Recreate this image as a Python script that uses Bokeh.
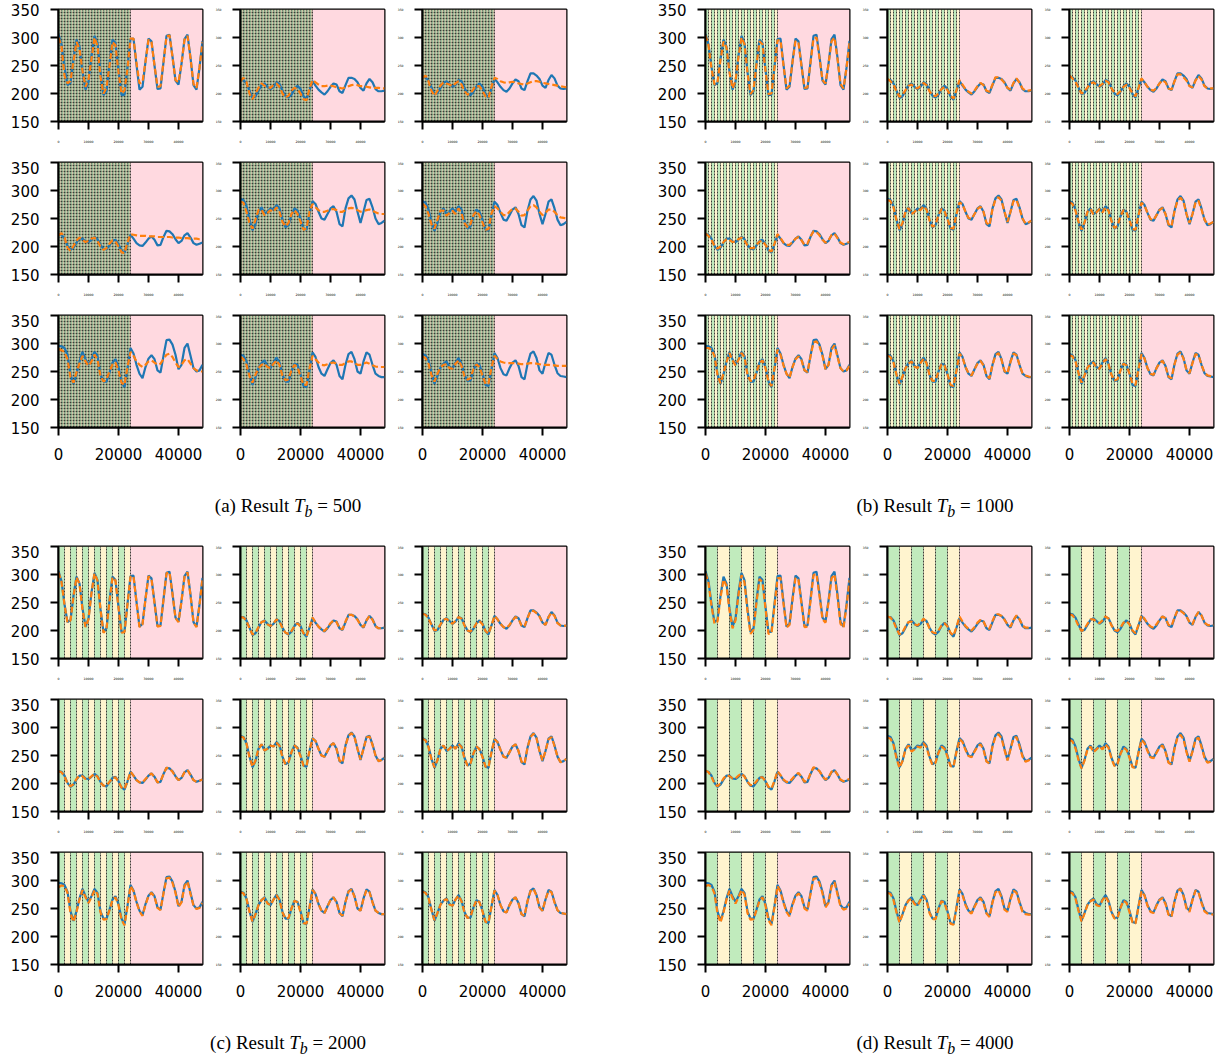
from bokeh.plotting import figure
from bokeh.layouts import column, row
from bokeh.models import Range1d, FixedTicker, Div
from bokeh.embed import file_html
from bokeh.resources import INLINE

X_MIN, X_MAX = 0, 48000
Y_MIN, Y_MAX = 150, 350
TRAIN_END = 24000
STEP = 1000
Y_TICKS = [150, 200, 250, 300, 350]
X_TICKS_SMALL = [0, 10000, 20000, 30000, 40000]
X_TICKS_BIG = [0, 20000, 40000]
PANEL_LETTERS = ["a", "b", "c", "d"]
TB = [500, 1000, 2000, 4000]

GREEN = "#c1ebbd"
YELLOW = "#fff4cf"
PINK = "#ffd9e0"
BLUE_C = "#1f77b4"
ORANGE_C = "#ff7f0e"

# ---- true series (blue), sampled every 1000 steps ----
B11 = [306,288,247,215,219,262,296,284,239,207,221,268,303,290,238,197,204,254,296,290,242,197,198,248,297,298,251,207,212,257,298,293,250,208,209,256,303,305,266,223,216,253,297,305,264,215,207,246,294]
B12 = [224,224,218,205,192,195,205,215,218,212,208,212,220,217,205,196,193,198,208,214,208,195,189,205,222,214,207,202,198,204,212,218,216,204,201,215,228,228,226,220,210,205,218,226,220,208,204,204,205]
B13 = [230,229,223,211,199,201,210,219,222,217,212,216,224,222,210,200,197,203,213,218,212,199,193,209,226,220,212,206,203,209,218,225,222,209,206,222,236,236,232,226,214,210,224,233,227,214,209,208,209]
B21 = [222,221,214,201,194,198,207,214,214,209,208,212,217,213,203,196,195,202,210,212,204,193,189,204,221,214,206,202,201,207,214,218,212,202,203,217,228,227,222,213,206,210,220,224,216,206,203,205,207]
B22 = [285,283,272,248,229,240,262,270,259,262,268,266,274,268,248,234,238,256,268,264,250,232,230,258,281,276,262,250,248,258,268,272,262,240,236,268,286,291,284,262,242,262,283,285,270,250,240,242,246]
B23 = [281,278,266,244,228,242,262,268,258,262,268,262,272,266,246,232,236,254,266,262,248,230,228,256,280,274,260,248,246,256,266,270,258,238,234,264,284,290,282,258,240,258,280,284,268,248,238,240,244]
B31 = [296,295,292,280,245,228,245,268,285,272,262,272,285,278,245,232,232,248,266,272,258,232,222,255,292,282,262,246,238,258,273,279,272,252,248,278,306,307,298,280,254,262,292,300,278,256,250,252,262]
B32 = [280,278,268,245,226,240,256,265,270,260,256,266,275,266,244,232,232,250,264,262,245,224,222,252,284,276,258,246,242,254,265,270,262,242,236,262,281,285,272,250,246,268,284,280,262,246,242,240,240]
B33 = [281,279,270,248,228,242,257,264,268,258,255,266,274,264,244,233,234,252,265,262,246,226,224,254,283,274,256,245,243,256,266,270,260,240,236,263,282,286,274,252,246,266,283,280,262,247,242,241,240]

# ---- predictions (orange), Tb = 500 ----
Oa11 = [300,285,232,218,222,258,292,280,240,212,225,262,300,285,230,200,210,250,292,286,238,200,205,245,298,298,254,218,220,257,296,292,250,212,213,256,302,304,265,224,220,253,296,303,263,217,210,246,292]
Oa12 = [222,228,220,200,190,200,210,218,214,212,210,215,218,212,200,193,196,205,210,208,200,190,188,208,224,220,216,213,213,214,214,213,211,210,209,211,213,215,216,215,213,213,212,211,210,210,210,209,209]
Oa13 = [228,232,222,205,196,205,214,220,218,216,213,218,222,216,205,198,200,208,214,213,205,195,192,212,228,226,222,220,219,220,221,220,218,217,216,218,220,222,222,221,219,218,217,216,215,214,213,212,211]
Oa21 = [220,224,216,198,192,201,210,216,212,208,210,214,216,210,200,194,197,205,211,209,200,190,188,207,222,221,220,219,219,219,218,218,218,217,217,217,217,217,216,216,216,215,215,215,214,214,214,213,213]
Oa22 = [280,278,262,242,232,248,265,266,256,260,265,262,270,262,244,236,242,258,265,258,245,230,232,262,276,270,265,262,262,264,266,267,265,262,262,265,268,269,268,265,262,263,265,266,264,261,259,258,258]
Oa23 = [276,272,258,240,232,248,264,264,255,260,264,258,268,260,242,234,240,256,263,256,243,230,231,259,272,268,262,256,256,262,267,268,262,255,256,264,272,274,270,262,256,260,266,266,262,256,252,251,250]
Oa31 = [290,288,285,272,240,230,248,265,278,268,260,268,280,272,242,232,236,250,263,266,252,230,226,258,285,278,268,262,258,262,268,270,266,262,264,272,280,282,276,266,258,262,270,272,264,256,252,250,250]
Oa32 = [276,272,262,242,230,244,256,262,264,258,256,264,270,262,242,234,236,252,262,258,242,226,226,255,278,272,266,262,261,263,265,266,264,262,262,265,268,268,265,262,262,264,266,264,261,259,258,258,258]
Oa33 = [277,274,264,244,232,246,257,262,263,256,255,264,270,260,242,235,238,254,263,258,243,228,228,257,278,272,268,266,265,265,265,265,264,263,263,264,265,265,264,263,262,262,262,261,261,260,260,260,260]

# ---- predictions (orange), Tb = 1000 ----
Ob11 = [304,286,245,216,220,260,293,282,238,209,222,266,300,288,237,199,206,252,293,288,241,199,200,247,295,295,250,209,214,256,294,290,249,210,211,255,298,300,263,224,218,252,293,300,262,217,209,246,290]
Ob12 = [226,222,216,204,194,197,206,214,216,211,209,213,219,215,204,197,195,200,208,212,206,196,191,206,224,216,208,203,200,205,213,219,215,205,203,216,229,229,225,219,210,207,219,227,219,209,205,205,206]
Ob13 = [232,227,221,210,200,203,211,218,220,216,213,217,223,220,209,201,199,204,212,216,210,200,195,210,227,220,212,207,205,210,218,224,220,209,207,222,234,234,229,223,213,211,223,231,225,213,209,209,209]
Ob21 = [223,219,212,201,196,200,208,213,212,208,209,213,216,211,202,197,197,203,209,210,203,194,191,205,222,215,207,203,203,208,214,217,211,203,205,218,227,226,220,212,207,211,220,223,215,207,204,206,208]
Ob22 = [283,281,270,247,231,242,262,269,258,262,267,265,272,266,247,235,239,256,267,263,249,233,232,258,279,275,262,251,249,258,267,271,262,242,238,267,284,288,282,262,244,262,281,283,268,250,241,243,246]
Ob23 = [279,276,264,244,230,243,262,267,257,261,267,261,270,264,245,233,237,254,265,261,247,231,230,256,278,273,260,249,247,256,265,269,258,240,236,263,282,287,280,258,242,258,278,282,266,248,239,241,244]
Ob31 = [292,292,289,278,244,229,246,267,283,270,261,271,283,276,244,233,234,249,265,270,256,232,224,256,289,280,261,246,239,258,272,277,270,252,249,277,302,304,295,278,254,262,289,297,276,256,250,252,260]
Ob32 = [278,276,266,244,228,241,256,264,268,259,256,265,273,265,244,233,234,250,263,261,245,226,224,252,282,275,258,247,243,254,264,269,261,243,238,262,279,283,271,251,247,267,282,279,262,247,243,241,240]
Ob33 = [279,277,268,247,230,243,257,263,266,257,255,265,272,263,244,234,236,252,264,261,246,228,226,254,281,273,256,246,244,256,265,269,259,241,238,263,280,284,273,253,247,265,281,279,262,248,243,242,241]

# ---- predictions (orange), Tb = 2000 ----
Oc11 = [304,287,246,214,218,261,295,283,238,206,220,267,302,289,237,196,203,253,295,289,241,196,197,247,296,297,250,206,211,256,297,292,249,207,208,255,302,304,265,222,215,252,296,304,263,214,206,245,293]
Oc12 = [224,223,217,204,193,196,206,215,217,211,208,213,220,216,204,196,194,199,208,213,207,195,190,205,223,215,207,202,199,205,213,218,215,204,202,216,228,228,225,219,210,206,218,226,219,208,204,204,205]
Oc13 = [230,228,222,210,200,202,211,219,221,216,212,217,224,221,209,200,198,204,213,217,211,199,194,209,226,220,212,206,204,210,218,224,221,209,207,222,235,235,231,225,214,210,224,232,226,213,209,208,209]
Oc21 = [222,220,213,200,195,199,208,214,213,208,208,213,217,212,202,196,196,203,210,211,203,193,190,204,221,214,206,202,202,208,214,218,211,202,204,217,228,227,221,212,206,210,220,224,215,206,203,205,207]
Oc22 = [284,282,271,247,230,241,262,270,259,262,268,266,273,267,247,234,238,256,268,263,249,232,231,258,280,276,262,250,248,258,268,272,262,241,237,268,285,290,283,262,243,262,282,284,269,250,240,242,246]
Oc23 = [280,277,265,243,229,242,262,268,258,262,268,262,271,265,245,232,236,254,266,261,247,230,229,256,279,274,260,248,246,256,266,270,258,239,235,264,283,289,281,258,241,258,279,283,267,248,238,240,244]
Oc31 = [288,291,290,278,242,226,244,266,283,270,260,270,283,276,243,230,231,247,265,270,256,230,220,254,290,281,261,245,237,257,272,278,271,251,247,277,304,305,296,278,253,261,290,298,276,255,249,251,260]
Oc32 = [279,277,267,244,227,240,256,265,269,259,256,266,274,265,243,232,233,250,264,261,244,224,223,252,283,276,258,246,242,254,265,270,261,242,237,262,280,284,271,250,246,267,283,279,261,246,242,240,240]
Oc33 = [280,278,269,247,229,242,257,264,267,257,255,266,273,263,243,233,235,252,265,261,245,226,225,254,282,274,256,245,243,256,266,270,259,240,237,263,281,285,273,252,246,266,282,279,261,247,242,241,240]

# ---- predictions (orange), Tb = 4000 ----
Od11 = [302,285,244,212,216,258,291,280,236,204,218,264,299,286,235,194,201,250,292,286,239,194,195,244,293,294,248,205,210,254,294,290,247,206,207,253,299,301,262,220,214,250,293,300,260,212,205,243,290]
Od12 = [225,223,216,203,193,197,207,215,216,211,209,214,221,216,204,197,195,200,209,213,207,196,191,206,225,216,208,203,200,206,214,219,216,205,203,217,229,229,226,219,211,207,219,227,220,209,205,205,206]
Od13 = [229,227,220,208,199,203,212,220,220,216,213,218,225,221,209,201,199,205,214,217,211,200,195,210,227,221,213,207,205,211,219,225,222,210,208,223,236,235,231,225,215,211,225,233,227,214,210,209,210]
Od21 = [223,220,212,200,195,200,209,215,213,209,209,214,218,212,203,197,197,204,211,211,204,194,191,205,222,215,207,203,203,209,215,219,212,203,205,218,229,227,222,213,207,211,221,224,216,207,204,206,208]
Od22 = [282,280,269,245,228,240,261,268,257,261,266,264,272,265,246,233,237,255,266,262,248,231,230,257,279,274,260,249,247,257,266,270,260,239,236,266,284,288,281,260,241,261,281,283,267,248,239,241,245]
Od23 = [278,275,263,242,227,241,261,266,256,261,266,261,270,264,244,231,235,253,264,260,246,229,228,255,278,272,258,247,245,255,264,268,256,237,234,262,282,287,279,256,239,257,278,282,265,246,237,239,243]
Od31 = [290,292,289,277,241,225,243,266,282,269,259,270,283,275,242,230,231,247,264,270,255,229,220,253,290,280,260,244,236,256,271,277,270,250,246,276,303,304,295,277,252,260,289,297,275,254,248,250,259]
Od32 = [278,276,265,243,225,239,255,264,268,258,255,265,273,264,242,231,231,249,263,260,243,223,221,251,282,274,256,245,241,253,263,268,260,241,235,261,279,283,270,248,244,266,282,278,260,244,240,239,239]
Od33 = [279,277,268,246,227,241,256,263,266,256,254,265,272,262,242,232,233,251,264,260,244,225,223,253,281,273,255,244,242,255,265,269,258,239,235,262,281,285,272,250,244,265,282,279,260,245,241,240,239]

BLUE = [[B11, B12, B13], [B21, B22, B23], [B31, B32, B33]]
ORANGE = [
    [[Oa11, Oa12, Oa13], [Oa21, Oa22, Oa23], [Oa31, Oa32, Oa33]],
    [[Ob11, Ob12, Ob13], [Ob21, Ob22, Ob23], [Ob31, Ob32, Ob33]],
    [[Oc11, Oc12, Oc13], [Oc21, Oc22, Oc23], [Oc31, Oc32, Oc33]],
    [[Od11, Od12, Od13], [Od21, Od22, Od23], [Od31, Od32, Od33]],
]

PAGE_PAD = 8  # the page template has no body margin, so add it here


def make_sub(blue, orange, tb, left_border, top_border, bottom_row, big_y):
    p = figure(frame_width=144, frame_height=112,
               x_range=Range1d(X_MIN, X_MAX), y_range=Range1d(Y_MIN, Y_MAX),
               output_backend="svg", toolbar_location=None, title=None,
               min_border_left=left_border, min_border_right=2,
               min_border_top=top_border, min_border_bottom=48 if bottom_row else 40)
    p.background_fill_color = "white"
    p.border_fill_color = "white"
    p.outline_line_color = "black"
    p.outline_line_width = 2
    p.xgrid.visible = False
    p.ygrid.visible = False

    n = TRAIN_END // tb
    lefts = [k * tb for k in range(n)] + [TRAIN_END]
    rights = [(k + 1) * tb for k in range(n)] + [X_MAX]
    colors = [GREEN if k % 2 == 0 else YELLOW for k in range(n)] + [PINK]
    p.quad(left=lefts, right=rights, bottom=Y_MIN, top=Y_MAX,
           fill_color=colors, line_color=None)
    bx = [(k + 1) * tb for k in range(n)]
    p.segment(x0=bx, x1=bx, y0=Y_MIN, y1=Y_MAX, line_color="black",
              line_alpha=0.75, line_width=1, line_dash="2 1")

    xb = [i * STEP for i in range(len(blue))]
    p.line(xb, blue, line_color=BLUE_C, line_width=2.2)
    xo = [i * STEP for i in range(len(orange))]
    p.line(xo, orange, line_color=ORANGE_C, line_width=2.2, line_dash="6 3")

    for ax in (p.xaxis[0], p.yaxis[0]):
        ax.axis_line_width = 2
        ax.axis_line_color = "black"
        ax.major_tick_line_width = 2
        ax.major_tick_line_color = "black"
        ax.major_tick_out = 8
        ax.major_tick_in = 0
        ax.minor_tick_line_color = None
        ax.major_label_text_font = "DejaVu Sans"
        ax.major_label_text_color = "black"

    p.yaxis.ticker = FixedTicker(ticks=Y_TICKS)
    p.yaxis.major_label_overrides = {t: str(t) for t in Y_TICKS}
    xt = X_TICKS_BIG if bottom_row else X_TICKS_SMALL
    p.xaxis.ticker = FixedTicker(ticks=xt)
    p.xaxis.major_label_overrides = {t: str(t) for t in xt}

    if big_y:
        p.yaxis.major_label_text_font_size = "15px"
    else:
        p.yaxis.major_label_text_font_size = "3px"
    p.yaxis.major_label_standoff = 11
    if bottom_row:
        p.xaxis.major_label_text_font_size = "15px"
        p.xaxis.major_label_standoff = 12
    else:
        p.xaxis.major_label_text_font_size = "3.2px"
        p.xaxis.major_label_standoff = 10
    return p


def caption(letter, tb, width, height, pad_left, pad_top):
    html = ('<div style="box-sizing:border-box;width:%dpx;padding-left:%dpx;padding-top:%dpx;'
            'text-align:center;font-family:\'Liberation Serif\',serif;font-size:19px;color:black;'
            'white-space:nowrap;">(%s) Result <i>T<sub>b</sub></i> = %d</div>'
            % (width, pad_left, pad_top, letter, tb))
    return Div(text=html, width=width, height=height, margin=(0, 0, 0, 0))


rows = []
for pi_pair, (pair, cap_h) in enumerate((((0, 1), 70), ((2, 3), 36))):
    for r in range(3):
        figs = []
        for pi, panel in enumerate(pair):
            for c in range(3):
                if c == 0:
                    lb = 50 + PAGE_PAD if pi == 0 else 137
                else:
                    lb = 36
                tb_top = 1 + (PAGE_PAD if (pi_pair == 0 and r == 0) else 0)
                figs.append(make_sub(BLUE[r][c], ORANGE[panel][r][c], TB[panel],
                                     lb, tb_top, r == 2, c == 0))
        rows.append(row(*figs))
    caps = [caption(PANEL_LETTERS[pair[0]], TB[pair[0]], 560 + PAGE_PAD, cap_h, PAGE_PAD, 17),
            caption(PANEL_LETTERS[pair[1]], TB[pair[1]], 647, cap_h, 87, 17)]
    rows.append(row(*caps))

layout = column(*rows)
open("out.html", "w").write(file_html(layout, INLINE))
